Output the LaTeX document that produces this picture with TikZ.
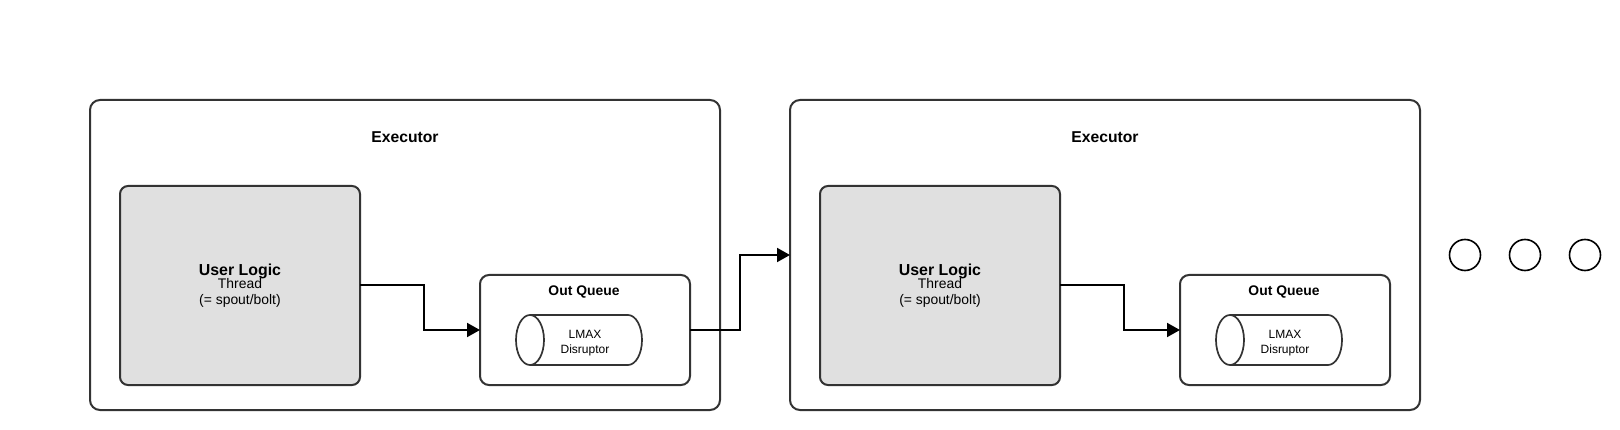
\documentclass[tikz,border=0pt]{standalone}
\usepackage{fontspec}
\setmainfont{Liberation Sans}
\usetikzlibrary{arrows.meta,calc}
\definecolor{bordergray}{HTML}{333333}
\definecolor{logicfill}{HTML}{E0E0E0}
\tikzset{
  exbox/.style={draw=bordergray, line width=2pt, rounded corners=10pt, fill=white,
    minimum width=630pt, minimum height=310pt, inner sep=0pt, outer sep=0pt, anchor=north west},
  logicbox/.style={draw=bordergray, line width=2pt, rounded corners=8pt, fill=logicfill,
    minimum width=240pt, minimum height=199pt, inner sep=0pt, outer sep=0pt, anchor=north west},
  queuebox/.style={draw=bordergray, line width=2pt, rounded corners=9pt, fill=white,
    minimum width=210pt, minimum height=110pt, inner sep=0pt, outer sep=0pt, anchor=north west},
  cylarea/.style={minimum width=126pt, minimum height=50pt, inner sep=0pt, outer sep=0pt, anchor=west},
  cylline/.style={draw=bordergray, line width=1.7pt},
  lbl/.style={anchor=base, inner sep=0pt, outer sep=0pt},
  conn/.style={draw=black, line width=2pt, -{Triangle[length=13pt,width=14pt]}},
  dotc/.style={circle, draw=black, line width=1.6pt, minimum size=31pt, inner sep=0pt},
}
\begin{document}
\begin{tikzpicture}[x=1pt,y=-1pt]
\useasboundingbox (0,0) rectangle (1620,430);
\foreach \i/\dx in {1/0,2/700}{
  \begin{scope}[xshift=\dx pt]
    \node[exbox] (ex\i) at (90,100) {};
    \node[lbl, font=\fontsize{15.7}{18}\selectfont\bfseries] (ext\i) at (405,143) {Executor};
    \node[logicbox] (ul\i) at (120,186) {};
    \node[lbl, font=\fontsize{15.9}{18}\selectfont\bfseries] (ult\i) at (240,276) {User Logic};
    \node[lbl, font=\fontsize{13.9}{16}\selectfont] (ulth\i) at (240,289) {Thread};
    \node[lbl, font=\fontsize{13.9}{16}\selectfont] (ulsb\i) at (240,305) {(= spout/bolt)};
    \node[queuebox] (oq\i) at (480,275) {};
    \node[lbl, font=\fontsize{13.9}{16}\selectfont\bfseries] (oqt\i) at (584,296) {Out Queue};
    \node[cylarea] (cy\i) at (516,340) {};
    \draw[cylline] (530,315) -- (628,315) arc[start angle=-90, end angle=90, x radius=14, y radius=25] -- (530,365);
    \draw[cylline] (530,340) ellipse[x radius=14, y radius=25];
    \node[lbl, font=\fontsize{12}{14}\selectfont] (cyt\i) at (585,338) {LMAX};
    \node[lbl, font=\fontsize{12}{14}\selectfont] (cyd\i) at (585,353) {Disruptor};
    \draw[conn] (ul\i.east) -- ++(64,0) |- (oq\i.west);
  \end{scope}
}
\draw[conn] (oq1.east) -- ++(50,0) |- (ex2.west);
\node[dotc] (d1) at (1465,255) {};
\node[dotc] (d2) at (1525,255) {};
\node[dotc] (d3) at (1585,255) {};
\end{tikzpicture}
\end{document}
